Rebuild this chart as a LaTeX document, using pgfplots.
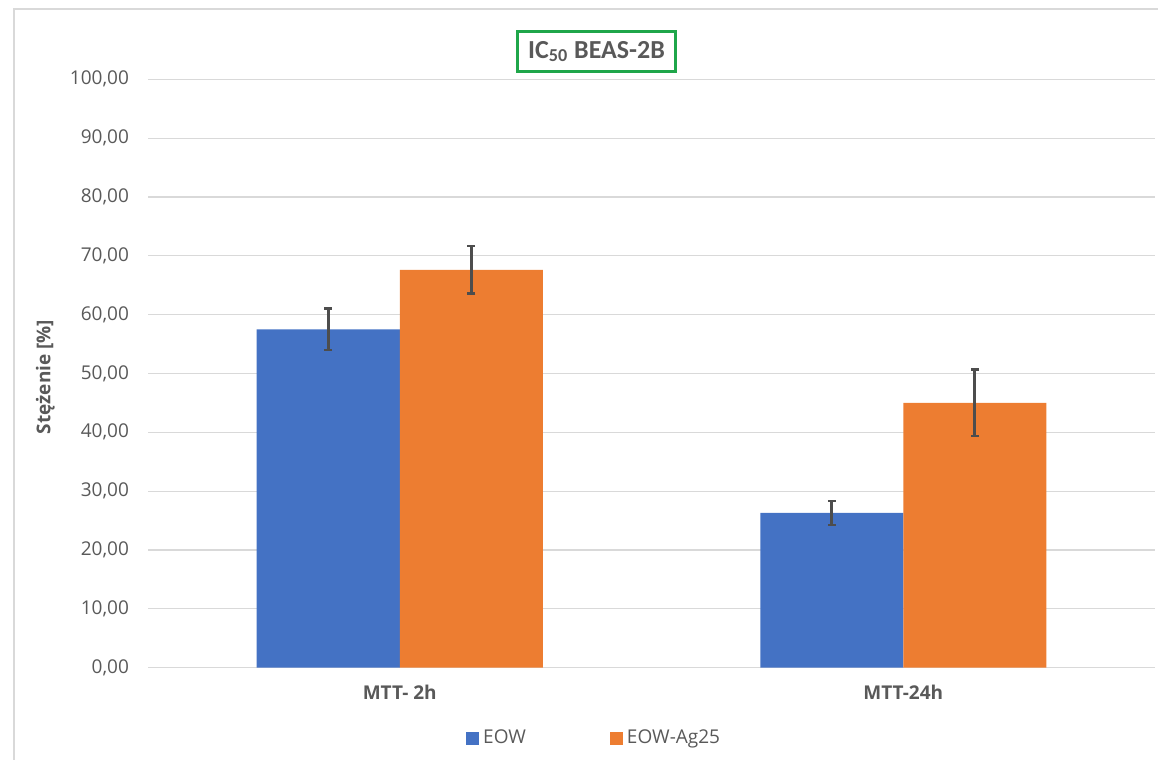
\documentclass[border=0pt]{standalone}
\usepackage{fontspec}
\setmainfont{Open Sans}
\newfontfamily\titlefont{Carlito}
\usepackage{pgfplots}
\pgfplotsset{compat=1.18}
\definecolor{eowblue}{HTML}{4472C4}
\definecolor{agorange}{HTML}{ED7D31}
\definecolor{txtgray}{HTML}{595959}
\definecolor{gridgray}{HTML}{D9D9D9}
\definecolor{errgray}{HTML}{4D4D4D}
\definecolor{boxgreen}{HTML}{1FA64A}

\begin{document}
\begin{tikzpicture}
\useasboundingbox (0,0) rectangle (579pt,380pt);
% chart frame (only top and left edges visible)
\draw[gridgray, line width=0.6pt] (7pt,0) -- (7pt,375.5pt) -- (579pt,375.5pt);

\begin{axis}[
  at={(74pt,46.15pt)}, anchor=south west,
  scale only axis,
  width=503.5pt, height=294.2pt,
  ybar=0pt, bar width=71.5pt,
  xmin=-0.5, xmax=1.5,
  ymin=0, ymax=100,
  xtick=data,
  xticklabels={MTT- 2h, MTT-24h},
  ytick={0,10,...,100},
  axis x line*=bottom,
  axis y line*=left,
  x axis line style={gridgray, line width=0.6pt},
  y axis line style={draw=none},
  major tick length=0pt,
  ymajorgrids,
  grid style={gridgray, line width=0.6pt},
  yticklabel style={
    /pgf/number format/fixed, /pgf/number format/fixed zerofill,
    /pgf/number format/precision=2, /pgf/number format/use comma,
    /pgf/number format/assume math mode=true,
    font=\fontsize{9.5}{11}\selectfont, text=txtgray, xshift=-6pt},
  x tick label style={font=\fontsize{9.5}{11}\selectfont\bfseries, text=txtgray, yshift=-5pt},
  ylabel={Stężenie [\%]},
  every axis y label/.style={at={(axis description cs:-0.102,0.494)}, rotate=90, anchor=center,
    font=\fontsize{9.5}{11}\selectfont\bfseries, text=txtgray},
  legend columns=2,
  legend style={
    at={(axis description cs:0.444,-0.1205)}, anchor=center,
    draw=none, fill=none,
    font=\fontsize{9.5}{11}\selectfont, text=txtgray,
    /tikz/every even column/.append style={column sep=40pt},
    inner sep=0pt},
  legend image code/.code={\fill[#1] (0pt,-3.25pt) rectangle (6.5pt,3.25pt);},
  error bars/error bar style={errgray, line width=1.3pt},
  error bars/error mark options={errgray, line width=1.3pt, mark size=2pt, rotate=90},
]
\addplot[fill=eowblue, draw=none,
  error bars/.cd, y dir=both, y explicit]
  coordinates {(0,57.5) +- (0,3.5) (1,26.3) +- (0,2.05)};
\addlegendentry{EOW}
\addplot[fill=agorange, draw=none,
  error bars/.cd, y dir=both, y explicit]
  coordinates {(0,67.6) +- (0,4.05) (1,45.0) +- (0,5.65)};
\addlegendentry{EOW-Ag25}
\end{axis}

\node[draw=boxgreen, line width=1.5pt, minimum width=79pt, minimum height=20pt,
  inner sep=2pt, text=txtgray, font=\titlefont\fontsize{13}{15}\selectfont\bfseries]
  at (298.25pt,354.25pt) {IC\textsubscript{50} BEAS-2B};
\end{tikzpicture}
\end{document}
